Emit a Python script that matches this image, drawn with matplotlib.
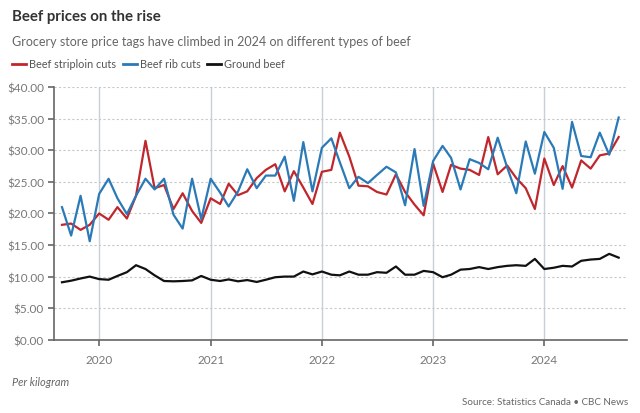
import matplotlib
matplotlib.use('Agg')
import matplotlib.pyplot as plt
import matplotlib.dates as mdates
import matplotlib.ticker as mticker
import pandas as pd

plt.rcParams['font.family'] = ['Lato', 'DejaVu Sans']

# monthly prices per kg, Sep 2019 - Sep 2024
months = pd.date_range('2019-09-01', periods=61, freq='MS')

striploin = [18.2, 18.4, 17.4, 18.2, 20.0, 19.0, 21.0, 19.2, 22.8, 31.5,
             24.0, 24.5, 20.7, 23.2, 20.4, 18.5, 22.4, 21.5, 24.7, 22.9,
             23.5, 25.6, 26.9, 27.8, 23.5, 26.7, 24.1, 21.5, 26.6, 26.9,
             32.8, 29.0, 24.4, 24.3, 23.4, 23.0, 26.2, 23.4, 21.4, 19.7,
             27.9, 23.4, 27.7, 27.1, 26.9, 26.1, 32.1, 26.2, 27.6, 25.6,
             24.0, 20.7, 28.7, 24.5, 27.5, 24.1, 28.4, 27.1, 29.2, 29.5,
             32.1]
rib = [21.0, 16.5, 22.8, 15.6, 23.1, 25.5, 22.4, 19.9, 22.8, 25.5,
       23.8, 25.5, 19.8, 17.6, 25.5, 19.1, 25.5, 23.3, 21.1, 23.5,
       27.0, 24.0, 26.0, 26.0, 29.0, 22.0, 31.3, 23.5, 30.4, 31.9,
       28.1, 24.0, 25.8, 24.8, 26.1, 27.4, 26.5, 21.3, 30.2, 21.2,
       28.3, 30.7, 28.8, 23.8, 28.6, 28.0, 27.0, 32.0, 27.3, 23.2,
       31.4, 26.3, 32.9, 30.4, 23.9, 34.5, 29.1, 28.9, 32.8, 29.3,
       35.2]
ground = [9.1, 9.35, 9.7, 10.0, 9.6, 9.5, 10.1, 10.7, 11.8, 11.2,
          10.2, 9.3, 9.25, 9.3, 9.4, 10.1, 9.5, 9.3, 9.55, 9.25,
          9.45, 9.15, 9.5, 9.9, 10.0, 10.0, 10.8, 10.35, 10.8, 10.3,
          10.2, 10.8, 10.3, 10.3, 10.7, 10.6, 11.6, 10.3, 10.3, 10.9,
          10.7, 9.9, 10.3, 11.1, 11.2, 11.5, 11.2, 11.5, 11.7, 11.8,
          11.7, 12.8, 11.2, 11.4, 11.7, 11.6, 12.5, 12.7, 12.8, 13.6,
          13.0]

series_names = ['Beef striploin cuts', 'Beef rib cuts', 'Ground beef']
colors = ['#c0272d', '#2a7ab8', '#111111']
legend_x = [12, 123, 207]  # px, where each legend swatch starts

fig = plt.figure(figsize=(6.4, 4.14), dpi=100)
ax = fig.add_axes([0.084, 0.177, 0.896, 0.61])

for vals, c in zip([striploin, rib, ground], colors):
    ax.plot(months, vals, color=c, lw=1.6)

ax.set_ylim(0, 40)
ax.yaxis.set_major_locator(mticker.MultipleLocator(5))
ax.yaxis.set_major_formatter(mticker.FuncFormatter(lambda v, p: '${:.2f}'.format(v)))
ax.set_xlim(months[0] - pd.Timedelta(days=27), months[-1] + pd.Timedelta(days=28))
ax.xaxis.set_major_locator(mdates.YearLocator())
ax.xaxis.set_major_formatter(mdates.DateFormatter('%Y'))

ax.grid(axis='y', color='#c8c8c8', ls=(0, (2, 2)), lw=0.8)
ax.grid(axis='x', color='#c5d0d8', ls='-', lw=1)
ax.set_axisbelow(True)
for s in ['top', 'right']:
    ax.spines[s].set_visible(False)
for s in ['left', 'bottom']:
    ax.spines[s].set_color('#666666')
    ax.spines[s].set_linewidth(1.2)
ax.tick_params(colors='#666666', labelcolor='#777777', labelsize=8.5, length=4, width=1.2)
ax.tick_params(axis='y', pad=3)
ax.tick_params(axis='x', pad=6)

fig.text(12/640, 1 - 17/414, 'Beef prices on the rise', fontsize=10.8, fontweight='bold',
         color='#333333', va='center')
fig.text(12/640, 1 - 42/414, 'Grocery store price tags have climbed in 2024 on different types of beef',
         fontsize=9.0, color='#666666', va='center')

# legend row
for name, c, lx in zip(series_names, colors, legend_x):
    fig.add_artist(plt.Line2D([lx/640, (lx + 14)/640], [1 - 65/414] * 2, color=c, lw=2))
    fig.text((lx + 17)/640, 1 - 65/414, name, fontsize=7.8, color='#555555', va='center')

fig.text(12/640, 1 - 383/414, 'Per kilogram', fontsize=7.9, style='italic', color='#666666', va='center')
fig.text(628/640, 1 - 403/414, 'Source: Statistics Canada \u2022 CBC News', fontsize=7.1,
         color='#666666', va='center', ha='right')

fig.savefig('out.png', dpi=100)
